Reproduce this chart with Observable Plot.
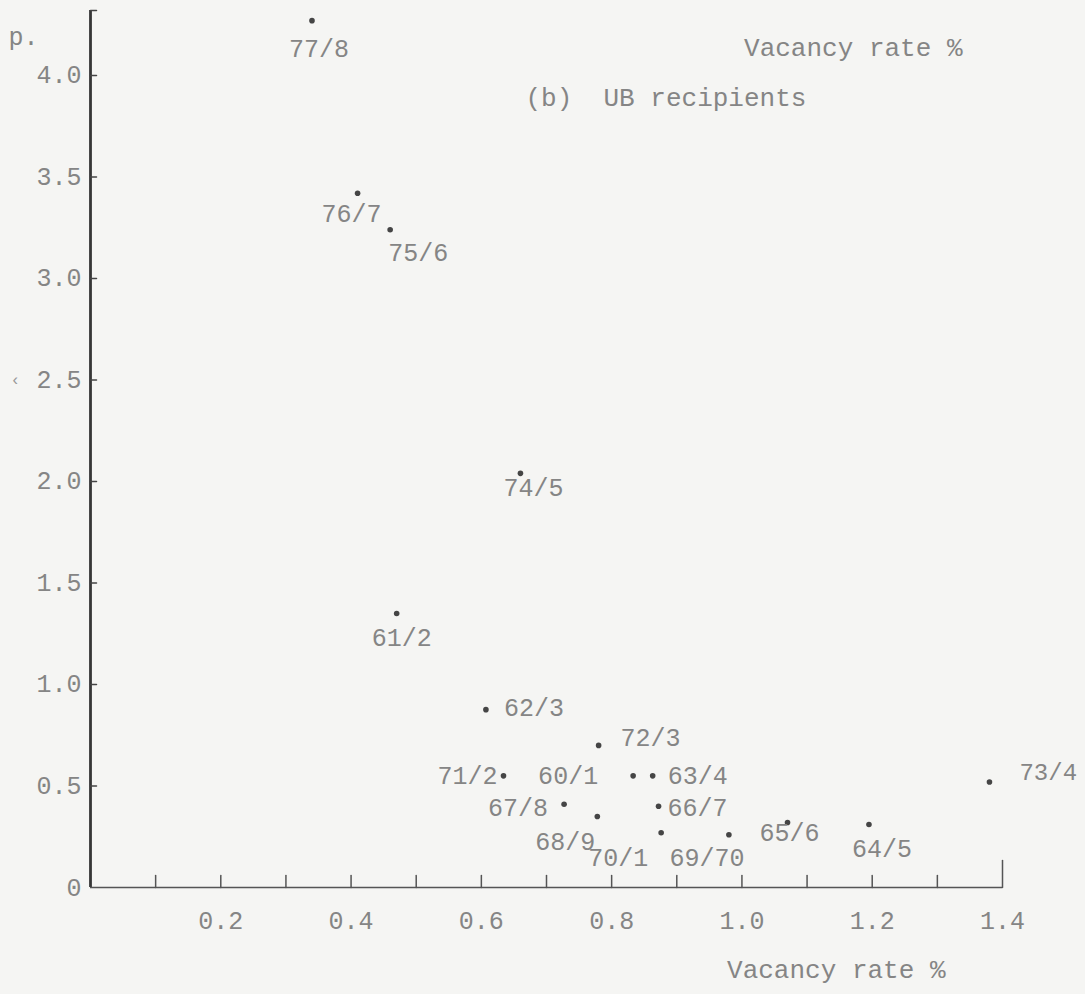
<!DOCTYPE html>
<html><head><meta charset="utf-8">
<script src="https://cdn.jsdelivr.net/npm/d3@7"></script>
<script src="https://cdn.jsdelivr.net/npm/@observablehq/plot@0.6"></script>
<style>
html,body{margin:0;padding:0;background:#f5f5f3;}
#chart{width:1085px;height:994px;overflow:hidden;}
svg{font-family:"Liberation Mono",monospace;}
</style></head><body><div id="chart"></div>
<script>
// ---- data ----
const periods     = ["60/1","61/2","62/3","63/4","64/5","65/6","66/7","67/8","68/9","69/70","70/1","71/2","72/3","73/4","74/5","75/6","76/7","77/8"];
const vacancyRate = [0.833, 0.47, 0.607, 0.863, 1.195, 1.07, 0.872, 0.727, 0.778, 0.98, 0.876, 0.634, 0.78, 1.38, 0.66, 0.46, 0.41, 0.34];
const ubRate      = [0.55, 1.35, 0.876, 0.55, 0.31, 0.32, 0.40, 0.41, 0.35, 0.26, 0.27, 0.55, 0.70, 0.52, 2.04, 3.24, 3.42, 4.27];
const xTickValues = [0.1,0.2,0.3,0.4,0.5,0.6,0.7,0.8,0.9,1.0,1.1,1.2,1.3,1.4];
const xLabelValues = [0.2,0.4,0.6,0.8,1.0,1.2,1.4];
const xLabelText   = ["0.2","0.4","0.6","0.8","1.0","1.2","1.4"];
const yTickValues  = [0.5,1.0,1.5,2.0,2.5,3.0,3.5,4.0,4.32];
const yLabelValues = [0,0.5,1.0,1.5,2.0,2.5,3.0,3.5,4.0];
const yLabelText   = ["0","0.5","1.0","1.5","2.0","2.5","3.0","3.5","4.0"];
const xDomain = [0, 1.4];
const yDomain = [0, 4.32];

// ---- label placement (pixels relative to dot) ----
const labelStyle = {
  "60/1":[-35,0,"end"], "61/2":[5,25,"middle"], "62/3":[18,-2,"start"], "63/4":[15,0,"start"],
  "64/5":[13,24,"middle"], "65/6":[2,10,"middle"], "66/7":[9,2,"start"], "67/8":[-16,4,"end"],
  "68/9":[-32,26,"middle"], "69/70":[-22,23,"middle"], "70/1":[-43,25,"middle"], "71/2":[-6,0,"end"],
  "72/3":[22,-7,"start"], "73/4":[30,-10,"start"], "74/5":[13,15,"middle"], "75/6":[28,23,"middle"],
  "76/7":[-6,21,"middle"], "77/8":[7,28,"middle"]
};

const rows = periods.map((p,i)=>({period:p, v:vacancyRate[i], u:ubRate[i]}));
const textColor = "#858585";
const fs = 25;
const tick = {draw(ctx, l){ ctx.moveTo(0,0); ctx.lineTo(0,-l); }};

const labelMarks = rows.map(r => {
  const [dx,dy,anchor] = labelStyle[r.period];
  return Plot.text([r], {x:"v", y:"u", text:"period", dx, dy, textAnchor:anchor,
    fill:textColor, fontSize: r.period === "73/4" ? 24 : fs, lineAnchor:"middle"});
});

const chart = Plot.plot({
  width:1085, height:994,
  marginLeft:90, marginRight:83, marginTop:10, marginBottom:107,
  style:{background:"transparent", fontFamily:"Liberation Mono, monospace"},
  x:{domain:xDomain, axis:null},
  y:{domain:yDomain, axis:null},
  marks:[
    Plot.ruleX([0], {y1:yDomain[0], y2:yDomain[1], stroke:"#363636", strokeWidth:2.8}),
    Plot.ruleY([0], {x1:xDomain[0], x2:xDomain[1], stroke:"#555", strokeWidth:1.5}),
    Plot.vector(yTickValues, {x:0, y:d=>d, length:6, rotate:90, anchor:"start", shape:tick, stroke:"#444", strokeWidth:1.5}),
    Plot.vector(xTickValues, {x:d=>d, y:0, length:d=>d===1.4?9:4, rotate:0, anchor:"start", shape:tick, stroke:"#555", strokeWidth:1.5}),
    Plot.text(yLabelValues, {x:0, y:d=>d, text:(d,i)=>yLabelText[i], textAnchor:"end", dx:-9, fill:textColor, fontSize:fs}),
    Plot.text(xLabelValues, {x:d=>d, y:0, text:(d,i)=>xLabelText[i], dy:33, fill:textColor, fontSize:fs}),
    Plot.dot(rows, {x:"v", y:"u", r:2.8, fill:"#454545"}),
    ...labelMarks,
    Plot.text(["Vacancy rate %"], {frameAnchor:"top-right", dx:-40, dy:27, textAnchor:"end", fill:textColor, fontSize:26}),
    Plot.text(["(b)  UB recipients"], {frameAnchor:"top-left", dx:435, dy:77, textAnchor:"start", fill:textColor, fontSize:26}),
    Plot.text(["Vacancy rate %"], {frameAnchor:"bottom-right", dx:-57, dy:90, textAnchor:"end", fill:textColor, fontSize:26}),
    Plot.text(["p."], {frameAnchor:"top-left", dx:-82, dy:17, textAnchor:"start", fill:textColor, fontSize:fs}),
    Plot.text(["‹"], {frameAnchor:"top-left", dx:-80, dy:363, textAnchor:"start", fill:"#999", fontSize:16})
  ]
});
document.getElementById("chart").appendChild(chart);
</script></body></html>
